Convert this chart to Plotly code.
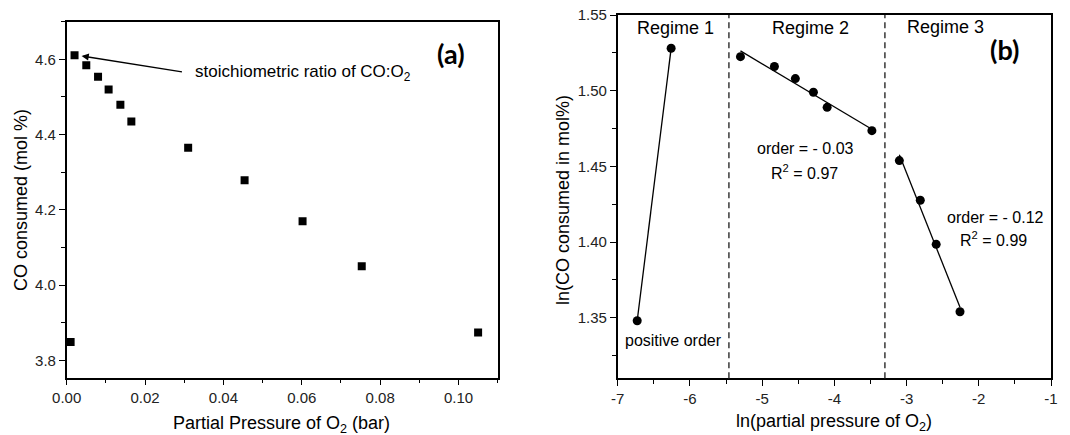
import numpy as np
import plotly.graph_objects as go

# ---------------- data ----------------
# panel (a)
p_o2 = [0.001, 0.002, 0.005, 0.008, 0.0107, 0.0137, 0.0165, 0.031, 0.0454, 0.0602, 0.0753, 0.105]
co_consumed = [3.849, 4.611, 4.584, 4.554, 4.520, 4.479, 4.435, 4.365, 4.279, 4.170, 4.050, 3.874]
xa_ticks = [0.00, 0.02, 0.04, 0.06, 0.08, 0.10]
xa_ticklabels = ["0.00", "0.02", "0.04", "0.06", "0.08", "0.10"]
ya_ticks = [3.8, 4.0, 4.2, 4.4, 4.6]
ya_ticklabels = ["3.8", "4.0", "4.2", "4.4", "4.6"]

# panel (b)
ln_p1 = [-6.73, -6.26]
ln_co1 = [1.348, 1.528]
ln_p2 = [-5.30, -4.83, -4.54, -4.29, -4.10, -3.48]
ln_co2 = [1.5225, 1.516, 1.508, 1.499, 1.489, 1.4736]
ln_p3 = [-3.10, -2.81, -2.59, -2.26]
ln_co3 = [1.4538, 1.4276, 1.3985, 1.354]
regime_bounds = [-5.46, -3.30]
xb_ticks = [-7, -6, -5, -4, -3, -2, -1]
xb_ticklabels = ["-7", "-6", "-5", "-4", "-3", "-2", "-1"]
yb_ticks = [1.35, 1.40, 1.45, 1.50, 1.55]
yb_ticklabels = ["1.35", "1.40", "1.45", "1.50", "1.55"]

FONT = "Liberation Sans, Arial, sans-serif"
BOLD_FONT = "Lato, Open Sans, sans-serif"
TICK_COLOR = "#222"

fig = go.Figure()

# panel (a) markers
fig.add_trace(go.Scatter(x=p_o2, y=co_consumed, mode="markers",
                         marker=dict(symbol="square", size=8, color="black"),
                         xaxis="x", yaxis="y", showlegend=False))

# panel (b)
def fit_line(xs, ys):
    k, b = np.polyfit(xs, ys, 1)
    xx = np.array([min(xs), max(xs)])
    return xx, k * xx + b

fig.add_trace(go.Scatter(x=ln_p1, y=ln_co1, mode="lines+markers",
                         line=dict(color="black", width=1.3),
                         marker=dict(symbol="circle", size=9, color="black"),
                         xaxis="x2", yaxis="y2", showlegend=False))
for xs, ys in [(ln_p2, ln_co2), (ln_p3, ln_co3)]:
    fx, fy = fit_line(xs, ys)
    fig.add_trace(go.Scatter(x=fx, y=fy, mode="lines",
                             line=dict(color="black", width=1.3),
                             xaxis="x2", yaxis="y2", showlegend=False))
    fig.add_trace(go.Scatter(x=xs, y=ys, mode="markers",
                             marker=dict(symbol="circle", size=9, color="black"),
                             xaxis="x2", yaxis="y2", showlegend=False))

W, H = 1070, 435
def dx(a, b):
    return [a / W, b / W]
def dy(top, bot):
    return [(H - bot) / H, (H - top) / H]

axis_common = dict(showline=True, linecolor="black", linewidth=1.5, mirror=True,
                   ticks="outside", ticklen=6, tickwidth=1.3, tickcolor="black",
                   showgrid=False, zeroline=False, automargin=False,
                   tickfont=dict(family=FONT, size=15, color=TICK_COLOR))
minor_common = dict(ticks="outside", ticklen=3.5, tickcolor="black", tickwidth=1.2, showgrid=False)

fig.update_layout(
    template="none",
    width=W, height=H,
    margin=dict(l=0, r=0, t=0, b=0, autoexpand=False),
    paper_bgcolor="white", plot_bgcolor="white",
    font=dict(family=FONT, color="black"),
    xaxis=dict(domain=dx(66.7, 497.7), range=[0, 0.11],
               tickmode="array", tickvals=xa_ticks, ticktext=xa_ticklabels,
               minor=dict(dtick=0.01, tick0=0, **minor_common),
               anchor="y", **axis_common),
    yaxis=dict(domain=dy(21.7, 377.7), range=[3.754, 4.7],
               tickmode="array", tickvals=ya_ticks, ticktext=ya_ticklabels,
               minor=dict(dtick=0.1, tick0=3.8, **minor_common),
               anchor="x", **axis_common),
    xaxis2=dict(domain=dx(617.7, 1051), range=[-7, -1],
                tickmode="array", tickvals=xb_ticks, ticktext=xb_ticklabels,
                minor=dict(dtick=0.5, tick0=-7, **minor_common),
                anchor="y2", **axis_common),
    yaxis2=dict(domain=dy(15, 378.3), range=[1.31, 1.55],
                tickmode="array", tickvals=yb_ticks, ticktext=yb_ticklabels,
                minor=dict(dtick=0.025, tick0=1.35, **minor_common),
                anchor="x2", **axis_common),
)

# axis titles (as paper annotations for exact placement)
def title_ann(text, xp, yp, angle=0):
    fig.add_annotation(xref="paper", yref="paper", x=xp / W, y=(H - yp) / H,
                       text=text, showarrow=False, textangle=angle,
                       xanchor="center", yanchor="middle",
                       font=dict(family=FONT, size=18, color="black"))

title_ann("Partial Pressure of O<sub>2</sub> (bar)", 281.7, 424)
title_ann("CO consumed (mol %)", 21, 200, -90)
title_ann("ln(partial pressure of O<sub>2</sub>)", 834, 422)
title_ann("ln(CO consumed in mol%)", 563, 200, -90)

# regime separators
for xb in regime_bounds:
    fig.add_shape(type="line", xref="x2", yref="y2 domain", x0=xb, x1=xb, y0=0, y1=1,
                  line=dict(color="#444", width=1.6, dash="6px,4px"))

# annotations panel (a)
fig.add_annotation(xref="x", yref="y", x=0.0038, y=4.609, ax=0.0298, ay=4.566,
                   axref="x", ayref="y", text="", showarrow=True,
                   arrowhead=2, arrowsize=1.1, arrowwidth=1.3, arrowcolor="black")
fig.add_annotation(xref="x", yref="y", x=0.0322, y=4.5636, xanchor="left", yanchor="middle",
                   text="stoichiometric ratio of CO:O<sub>2</sub>", showarrow=False,
                   font=dict(family=FONT, size=17, color="black"))
fig.add_annotation(xref="x", yref="y", x=0.098, y=4.615, text="<b>(a)</b>", showarrow=False,
                   font=dict(family=BOLD_FONT, size=27, color="black"))

# annotations panel (b)
txts = [
    ("Regime 1", -6.20, 1.5414, 18),
    ("Regime 2", -4.33, 1.5414, 18),
    ("Regime 3", -2.46, 1.5423, 18),
    ("order = - 0.03", -4.40, 1.462, 16),
    ("R<sup>2</sup> = 0.97", -4.42, 1.4465, 16),
    ("order = - 0.12", -1.77, 1.4164, 16),
    ("R<sup>2</sup> = 0.99", -1.80, 1.4019, 16),
    ("positive order", -6.23, 1.3349, 16),
]
for t, x, y, s in txts:
    fig.add_annotation(xref="x2", yref="y2", x=x, y=y, text=t, showarrow=False,
                       font=dict(family=FONT, size=s, color="black"))
fig.add_annotation(xref="x2", yref="y2", x=-1.64, y=1.5269, text="<b>(b)</b>", showarrow=False,
                   font=dict(family=BOLD_FONT, size=27, color="black"))

fig.write_html("out.html")
